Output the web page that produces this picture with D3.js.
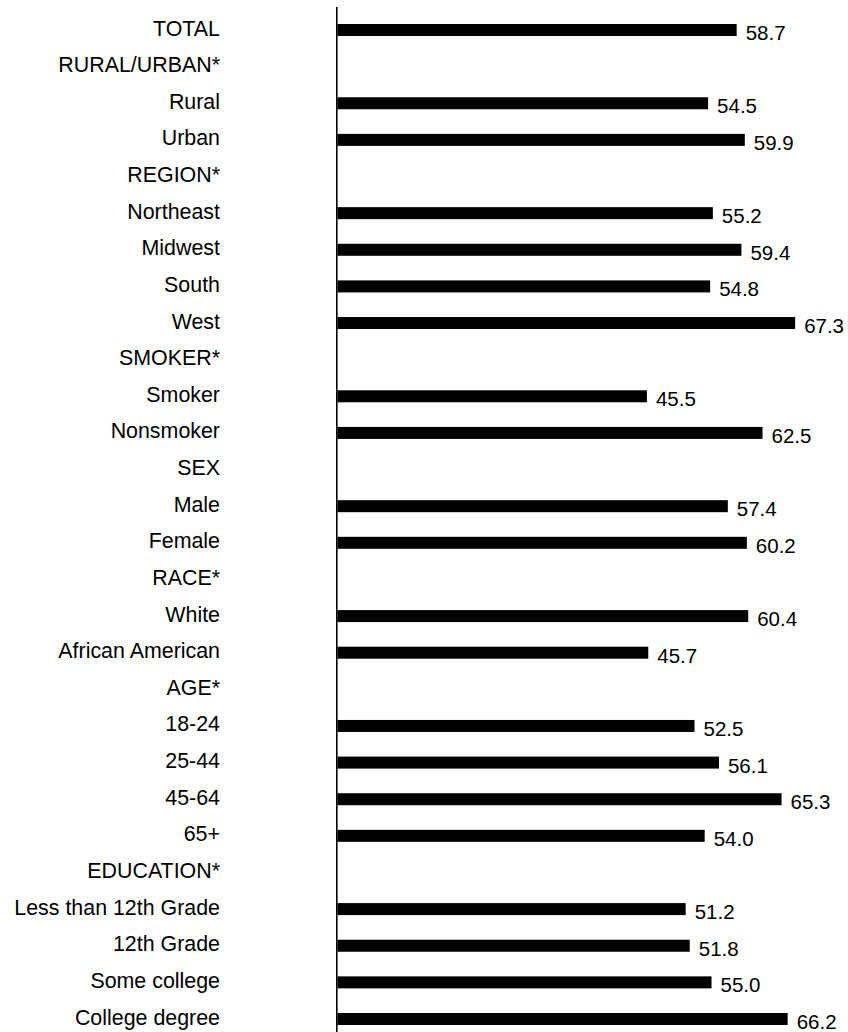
<!DOCTYPE html>
<html>
<head>
<meta charset="utf-8">
<script src="https://cdn.jsdelivr.net/npm/d3@7"></script>
<style>
  html, body { margin: 0; padding: 0; background: #fff; }
  svg { display: block; }
  text { font-family: "Liberation Sans", Arial, sans-serif; fill: #000; }
</style>
</head>
<body>
<svg id="chart" width="848" height="1032"></svg>
<script>
const categories = [
  "TOTAL", "RURAL/URBAN*", "Rural", "Urban",
  "REGION*", "Northeast", "Midwest", "South", "West",
  "SMOKER*", "Smoker", "Nonsmoker",
  "SEX", "Male", "Female",
  "RACE*", "White", "African American",
  "AGE*", "18-24", "25-44", "45-64", "65+",
  "EDUCATION*", "Less than 12th Grade", "12th Grade", "Some college", "College degree"
];
const values = [
  58.7, null, 54.5, 59.9,
  null, 55.2, 59.4, 54.8, 67.3,
  null, 45.5, 62.5,
  null, 57.4, 60.2,
  null, 60.4, 45.7,
  null, 52.5, 56.1, 65.3, 54.0,
  null, 51.2, 51.8, 55.0, 66.2
];

const rows = categories.map((c, i) => ({ cat: c, value: values[i] }));

const svg = d3.select("#chart");
const W = 848, H = 1032;

const x = d3.scaleLinear().domain([0, 100]).range([337.5, 337.5 + 680]);
const y = d3.scalePoint().domain(categories).range([30, 1019]);
const barH = 12;

// category labels
svg.append("g")
  .selectAll("text")
  .data(rows)
  .join("text")
  .attr("x", 220)
  .attr("y", d => y(d.cat) + 5.5)
  .attr("text-anchor", "end")
  .attr("font-size", 21.4)
  .text(d => d.cat);

// bars
const withVal = rows.filter(d => d.value != null);
svg.append("g")
  .selectAll("rect")
  .data(withVal)
  .join("rect")
  .attr("x", x(0))
  .attr("y", d => y(d.cat) - barH / 2)
  .attr("width", d => x(d.value) - x(0))
  .attr("height", barH)
  .attr("fill", "#000");

// value labels
svg.append("g")
  .selectAll("text")
  .data(withVal)
  .join("text")
  .attr("x", d => x(d.value) + 9)
  .attr("y", d => y(d.cat) + 10)
  .attr("font-size", 20.5)
  .text(d => d3.format(".1f")(d.value));

// vertical axis line
svg.append("line")
  .attr("x1", 336.8).attr("x2", 336.8)
  .attr("y1", 7).attr("y2", H)
  .attr("stroke", "#000")
  .attr("stroke-width", 1.6);
</script>
</body>
</html>
